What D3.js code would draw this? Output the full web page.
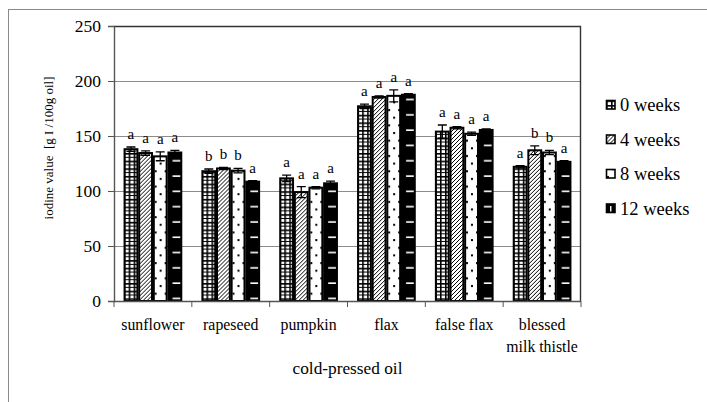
<!DOCTYPE html>
<html>
<head>
<meta charset="utf-8">
<script src="https://cdn.jsdelivr.net/npm/d3@7"></script>
<style>
  html, body { margin: 0; padding: 0; background: #fff; }
  svg { display: block; }
  text { font-family: "Liberation Serif", "DejaVu Serif", serif; fill: #000; }
</style>
</head>
<body>
<svg id="chart" width="707" height="402"></svg>
<script>
// Iodine value of cold-pressed oils during storage
const categories = ["sunflower", "rapeseed", "pumpkin", "flax", "false flax", "blessed milk thistle"];
const categoryLines = [["sunflower"], ["rapeseed"], ["pumpkin"], ["flax"], ["false flax"], ["blessed", "milk thistle"]];
const seriesNames = ["0 weeks", "4 weeks", "8 weeks", "12 weeks"];

const mean0  = [138, 118, 111.5, 177, 154, 122];
const mean4  = [134.5, 120.5, 99, 185.5, 157.5, 137];
const mean8  = [131.5, 118.5, 103, 186.5, 152, 135];
const mean12 = [135, 108.5, 107, 187.5, 155.5, 126.5];

const sd0  = [2, 2, 3, 2, 6, 1];
const sd4  = [2, 1, 5, 1, 1, 4];
const sd8  = [4, 2, 1, 5.5, 1.5, 2];
const sd12 = [2, 1, 2, 1, 1, 1];

const letters0  = ["a", "b", "a", "a", "a", "a"];
const letters4  = ["a", "b", "a", "a", "a", "b"];
const letters8  = ["a", "b", "a", "a", "a", "b"];
const letters12 = ["a", "a", "a", "a", "a", "a"];

const yTicks = [0, 50, 100, 150, 200, 250];

const means = [mean0, mean4, mean8, mean12];
const sds = [sd0, sd4, sd8, sd12];
const letters = [letters0, letters4, letters8, letters12];

const svg = d3.select("#chart");
const plot = { left: 114, right: 581, top: 26, bottom: 301 };

// ---- fill patterns (page aligned) ----
const defs = svg.append("defs");

// 0 weeks: white cells in a black grid
const pg = defs.append("pattern").attr("id", "pat0").attr("patternUnits", "userSpaceOnUse")
  .attr("width", 5).attr("height", 7.65);
pg.append("rect").attr("width", 5).attr("height", 7.65).attr("fill", "#fff");
pg.append("rect").attr("x", 0).attr("y", 0).attr("width", 1.6).attr("height", 7.65).attr("fill", "#000");
pg.append("rect").attr("x", 0).attr("y", 0).attr("width", 5).attr("height", 1.6).attr("fill", "#000");
pg.append("rect").attr("x", 0).attr("y", 3.8).attr("width", 5).attr("height", 1.0).attr("fill", "#000");

// 4 weeks: dense diagonal hatching
const pd = defs.append("pattern").attr("id", "pat4").attr("patternUnits", "userSpaceOnUse")
  .attr("width", 4).attr("height", 4);
pd.append("rect").attr("width", 4).attr("height", 4).attr("fill", "#fff");
pd.append("path").attr("d", "M-1,1 L1,-1 M0,4 L4,0 M3,5 L5,3").attr("stroke", "#000").attr("stroke-width", 1);

// 8 weeks: sparse staggered dots
const pt = defs.append("pattern").attr("id", "pat8").attr("patternUnits", "userSpaceOnUse")
  .attr("width", 10).attr("height", 15.3);
pt.append("rect").attr("width", 10).attr("height", 15.3).attr("fill", "#fff");
pt.append("rect").attr("x", 1).attr("y", 2).attr("width", 2).attr("height", 2).attr("fill", "#000");
pt.append("rect").attr("x", 6).attr("y", 9.6).attr("width", 2).attr("height", 2).attr("fill", "#000");

// 12 weeks: black with short white dashes
const pb = defs.append("pattern").attr("id", "pat12").attr("patternUnits", "userSpaceOnUse")
  .attr("width", 15.3).attr("height", 15.3);
pb.append("rect").attr("width", 15.3).attr("height", 15.3).attr("fill", "#000");
pb.append("rect").attr("x", 3).attr("y", 7).attr("width", 9).attr("height", 1.6).attr("fill", "#fff");

const fills = ["url(#pat0)", "url(#pat4)", "url(#pat8)", "url(#pat12)"];

// ---- outer chart frame ----
svg.append("rect").attr("x", 8.5).attr("y", 9.5).attr("width", 720).attr("height", 420)
  .attr("fill", "none").attr("stroke", "#8a8a8a").attr("stroke-width", 1);

// ---- scales ----
const y = d3.scaleLinear().domain([0, 250]).range([plot.bottom, plot.top]);
const x0 = d3.scaleBand().domain(categories).range([plot.left, plot.right])
  .paddingInner(0.248).paddingOuter(0.124);
const x1 = d3.scaleBand().domain(seriesNames).range([0, x0.bandwidth()]);

// gridlines
svg.append("g").selectAll("line").data(yTicks.filter(d => d > 0 && d < 250)).join("line")
  .attr("x1", plot.left).attr("x2", plot.right)
  .attr("y1", d => Math.round(y(d)) + 0.5).attr("y2", d => Math.round(y(d)) + 0.5)
  .attr("stroke", "#8c8c8c").attr("stroke-width", 1);

// plot border (top and right)
svg.append("path")
  .attr("d", `M${plot.left},${plot.top + 0.5}H${plot.right - 0.5}V${plot.bottom}`)
  .attr("fill", "none").attr("stroke", "#333").attr("stroke-width", 1.4);

// y axis
const yAxis = d3.axisLeft(y).tickValues(yTicks).tickSize(6).tickPadding(7).tickFormat(d3.format("d"));
const gy = svg.append("g").attr("transform", `translate(${plot.left},0)`).call(yAxis);
gy.select(".domain").attr("stroke", "#555").attr("stroke-width", 1.4);
gy.selectAll(".tick line").attr("stroke", "#555");
gy.selectAll(".tick text").attr("font-size", 17.5).attr("fill", "#000");

// ---- bars ----
const groups = svg.append("g").selectAll("g").data(categories).join("g")
  .attr("transform", d => `translate(${x0(d)},0)`);

groups.each(function (cat, ci) {
  const g = d3.select(this);
  seriesNames.forEach((s, si) => {
    const v = means[si][ci];
    const sd = sds[si][ci];
    const bx = x1(s);
    const bw = x1.bandwidth();
    g.append("rect")
      .attr("x", bx + 0.9).attr("y", y(v))
      .attr("width", bw - 1.8).attr("height", y(0) - y(v))
      .attr("fill", fills[si]).attr("stroke", "#000").attr("stroke-width", 2);
    // error bar
    const cx = bx + bw / 2;
    const cap = 4.5;
    g.append("path")
      .attr("d", `M${cx},${y(v + sd)}V${y(v - sd)}M${cx - cap},${y(v + sd)}H${cx + cap}M${cx - cap},${y(v - sd)}H${cx + cap}`)
      .attr("stroke", "#000").attr("stroke-width", 1.3).attr("fill", "none");
    // significance letter
    g.append("text")
      .attr("x", cx).attr("y", y(v + sd) - 8)
      .attr("text-anchor", "middle").attr("font-size", 15)
      .text(letters[si][ci]);
  });
});

// ---- x axis ----
svg.append("line").attr("x1", plot.left).attr("x2", plot.right)
  .attr("y1", plot.bottom + 0.5).attr("y2", plot.bottom + 0.5)
  .attr("stroke", "#555").attr("stroke-width", 1.4);
const step = x0.step();
const bounds = d3.range(categories.length + 1).map(i => plot.left + i * step);
svg.append("g").selectAll("line").data(bounds).join("line")
  .attr("x1", d => d).attr("x2", d => d)
  .attr("y1", plot.bottom).attr("y2", plot.bottom + 6)
  .attr("stroke", "#555").attr("stroke-width", 1);

svg.append("g").selectAll("text").data(categories).join("text")
  .attr("x", d => x0(d) + x0.bandwidth() / 2)
  .attr("y", 330)
  .attr("text-anchor", "middle").attr("font-size", 15.8)
  .each(function (d, i) {
    d3.select(this).selectAll("tspan").data(categoryLines[i]).join("tspan")
      .attr("x", x0(d) + x0.bandwidth() / 2)
      .attr("dy", (t, j) => j === 0 ? 0 : 21.5)
      .text(t => t);
  });

// axis titles
svg.append("text").attr("x", (plot.left + plot.right) / 2).attr("y", 374)
  .attr("text-anchor", "middle").attr("font-size", 17.3).text("cold-pressed oil");

svg.append("text").attr("transform", "translate(53,148) rotate(-90)")
  .attr("text-anchor", "middle").attr("font-size", 13)
  .style("white-space", "pre")
  .text("iodine value  [g I /100g oil]");

// ---- legend ----
const legend = svg.append("g").selectAll("g").data(seriesNames).join("g")
  .attr("transform", (d, i) => `translate(606,${105 + i * 34.5})`);
legend.append("rect").attr("x", 0.5).attr("y", -4.5).attr("width", 8.5).attr("height", 8.5)
  .attr("fill", (d, i) => i === 3 ? "#000" : fills[i]).attr("stroke", "#000").attr("stroke-width", 1.6);
// the 12-week key shows a single white stroke through the black square
legend.filter((d, i) => i === 3).append("line")
  .attr("x1", 4.75).attr("x2", 4.75).attr("y1", -2.5).attr("y2", 3)
  .attr("stroke", "#fff").attr("stroke-width", 1.4);
legend.append("text").attr("x", 14).attr("y", 6).attr("font-size", 18.5).text(d => d);
</script>
</body>
</html>
